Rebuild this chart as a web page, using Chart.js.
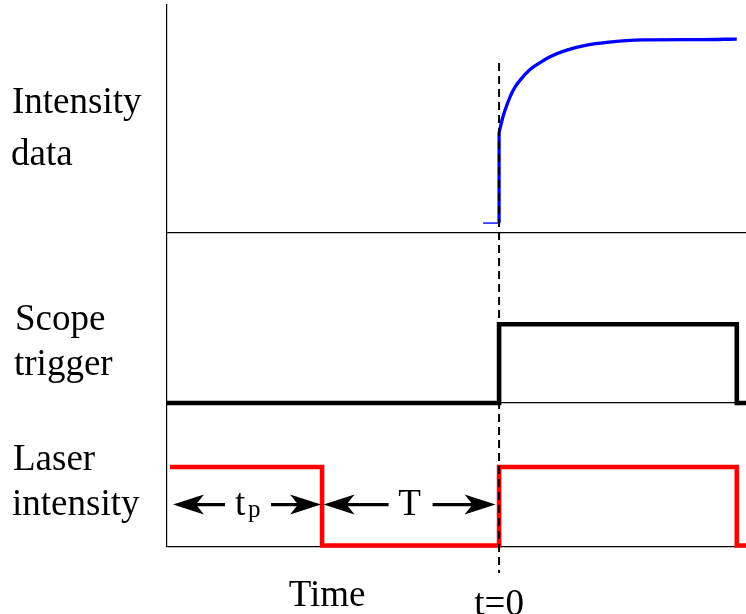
<!DOCTYPE html>
<html>
<head>
<meta charset="utf-8">
<script src="https://cdn.jsdelivr.net/npm/chart.js@4.4.1/dist/chart.umd.min.js"></script>
<style>
  html, body { margin: 0; padding: 0; background: #fff; }
</style>
</head>
<body>
<canvas id="timing" width="746" height="614"></canvas>
<script>
// time axis, arbitrary units (T = 10)
const TIME_MIN = -18.76;
const TIME_MAX = 13.95;

// intensity data: short flat stub, jump at t=0, then the rise
const stepTimes = [-0.9, 0, 0];
const stepValues = [0, 0, 0.49];
const riseTimes = [0, 0.17, 0.34, 0.62, 0.9, 1.19, 1.75, 2.32, 2.88, 3.82, 4.95, 6.08, 8.14, 11.36, 13.43];
const riseValues = [0.49, 0.56, 0.614, 0.686, 0.739, 0.777, 0.834, 0.872, 0.904, 0.94, 0.967, 0.982, 0.995, 0.997, 1.0];

// scope trigger, stepped
const triggerTimes = [-18.76, 0, 13.43, 13.95];
const triggerLevels = [0, 1, 0, 0];

// laser, stepped
const laserTimes = [-18.59, -10, 0, 13.43, 13.95];
const laserLevels = [1, 0, 1, 0, 0];

// marked intervals
const tpSpan = [-18.59, -10];
const periodSpan = [-10, 0];

const panelLabels = [["Intensity", "data"], ["Scope", "trigger"], ["Laser", "intensity"]];
const timeLabel = "Time";
const zeroLabel = "t=0";

const FONT = '37px "Liberation Serif", "Times New Roman", serif';

function pts(xs, ys) {
  return xs.map((x, i) => ({ x: x, y: ys[i] }));
}

function panelAxis(weight, min, max) {
  return {
    type: "linear",
    position: "left",
    stack: "panels",
    stackWeight: weight,
    min: min,
    max: max,
    ticks: { display: false },
    grid: { display: true, drawTicks: false, color: "#000", lineWidth: 1.2 },
    border: { display: true, color: "#000", width: 1.2 },
    afterBuildTicks: (s) => { s.ticks = [{ value: s.min }]; },
    afterFit: (s) => { s.width = 0; },
  };
}

function arrowHead(ctx, tipX, y, dir) {
  // dir -1 points left, +1 points right
  ctx.beginPath();
  ctx.moveTo(tipX, y);
  ctx.lineTo(tipX - dir * 31, y - 10);
  ctx.lineTo(tipX - dir * 23, y);
  ctx.lineTo(tipX - dir * 31, y + 10);
  ctx.closePath();
  ctx.fill();
}

function spanArrows(ctx, left, right, y, gapL, gapR) {
  const mid = (left + right) / 2;
  ctx.lineWidth = 3.3;
  ctx.beginPath();
  ctx.moveTo(mid - gapL, y);
  ctx.lineTo(left + 20, y);
  ctx.moveTo(mid + gapR, y);
  ctx.lineTo(right - 20, y);
  ctx.stroke();
  arrowHead(ctx, left, y, -1);
  arrowHead(ctx, right, y, 1);
  return mid;
}

const annotations = {
  id: "annotations",
  afterDatasetsDraw(chart) {
    const ctx = chart.ctx;
    const x = chart.scales.x;
    const yInt = chart.scales.yInt;
    const yLaser = chart.scales.yLaser;
    const area = chart.chartArea;
    const x0 = x.getPixelForValue(0);

    ctx.save();
    // dashed t=0 marker
    ctx.strokeStyle = "#000";
    ctx.lineWidth = 2;
    ctx.setLineDash([8, 5]);
    ctx.beginPath();
    ctx.moveTo(x0, yInt.getPixelForValue(0.87));
    ctx.lineTo(x0, area.bottom + 26);
    ctx.stroke();
    ctx.setLineDash([]);

    // t_p and T arrows
    ctx.fillStyle = "#000";
    const ay = yLaser.getPixelForValue(0.52);
    const tpMid = spanArrows(ctx, x.getPixelForValue(tpSpan[0]) + 3, x.getPixelForValue(tpSpan[1]) - 1, ay, 22, 24);
    const tMid = spanArrows(ctx, x.getPixelForValue(periodSpan[0]) + 1.5, x.getPixelForValue(periodSpan[1]) - 3.5, ay, 21, 23);

    ctx.font = FONT;
    ctx.textBaseline = "alphabetic";
    ctx.textAlign = "left";
    ctx.fillText("t", tpMid - 12, ay + 10);
    ctx.font = '25px "Liberation Serif", "Times New Roman", serif';
    ctx.fillText("p", tpMid + 1, ay + 12);
    ctx.font = FONT;
    ctx.textAlign = "center";
    ctx.fillText("T", tMid, ay + 10);

    // panel labels
    ctx.textAlign = "left";
    const rows = [[12, 113, 165], [15, 330, 375], [13, 470, 515]];
    panelLabels.forEach((lines, i) => {
      ctx.fillText(lines[0], rows[i][0], rows[i][1]);
      ctx.fillText(lines[1], rows[i][0] - 1, rows[i][2]);
    });

    // time axis texts
    ctx.textAlign = "center";
    ctx.fillText(timeLabel, x.getPixelForValue(periodSpan[0]) + 5, 606);
    ctx.fillText(zeroLabel, x0, 615);
    ctx.restore();
  },
};

new Chart(document.getElementById("timing"), {
  type: "line",
  data: {
    datasets: [
      {
        label: "Intensity step",
        data: pts(stepTimes, stepValues),
        yAxisID: "yInt",
        borderColor: "#0000ff",
        borderWidth: 3.3,
        segment: { borderWidth: (c) => (c.p0DataIndex === 0 ? 1.4 : 3.3) },
        pointRadius: 0,
        tension: 0,
        clip: 4,
      },
      {
        label: "Intensity rise",
        data: pts(riseTimes, riseValues),
        yAxisID: "yInt",
        borderColor: "#0000ff",
        borderWidth: 3.3,
        cubicInterpolationMode: "monotone",
        pointRadius: 0,
        clip: 4,
      },
      {
        label: "Scope trigger",
        data: pts(triggerTimes, triggerLevels),
        yAxisID: "yTrig",
        stepped: "before",
        borderColor: "#000",
        borderWidth: 4.6,
        borderJoinStyle: "miter",
        pointRadius: 0,
        clip: 4,
      },
      {
        label: "Laser intensity",
        data: pts(laserTimes, laserLevels),
        yAxisID: "yLaser",
        stepped: "before",
        borderColor: "#ff0000",
        borderWidth: 4.6,
        borderJoinStyle: "miter",
        pointRadius: 0,
        clip: 4,
      },
    ],
  },
  options: {
    responsive: false,
    animation: false,
    devicePixelRatio: 1,
    layout: { padding: { left: 167, top: 5, right: 0, bottom: 67 } },
    plugins: { legend: { display: false }, tooltip: { enabled: false } },
    scales: {
      x: { type: "linear", min: TIME_MIN, max: TIME_MAX, display: false },
      yLaser: panelAxis(144, -0.02, 1.815),
      yTrig: panelAxis(170, 0, 2.16),
      yInt: panelAxis(228, -0.054, 1.185),
    },
  },
  plugins: [annotations],
});
</script>
</body>
</html>
